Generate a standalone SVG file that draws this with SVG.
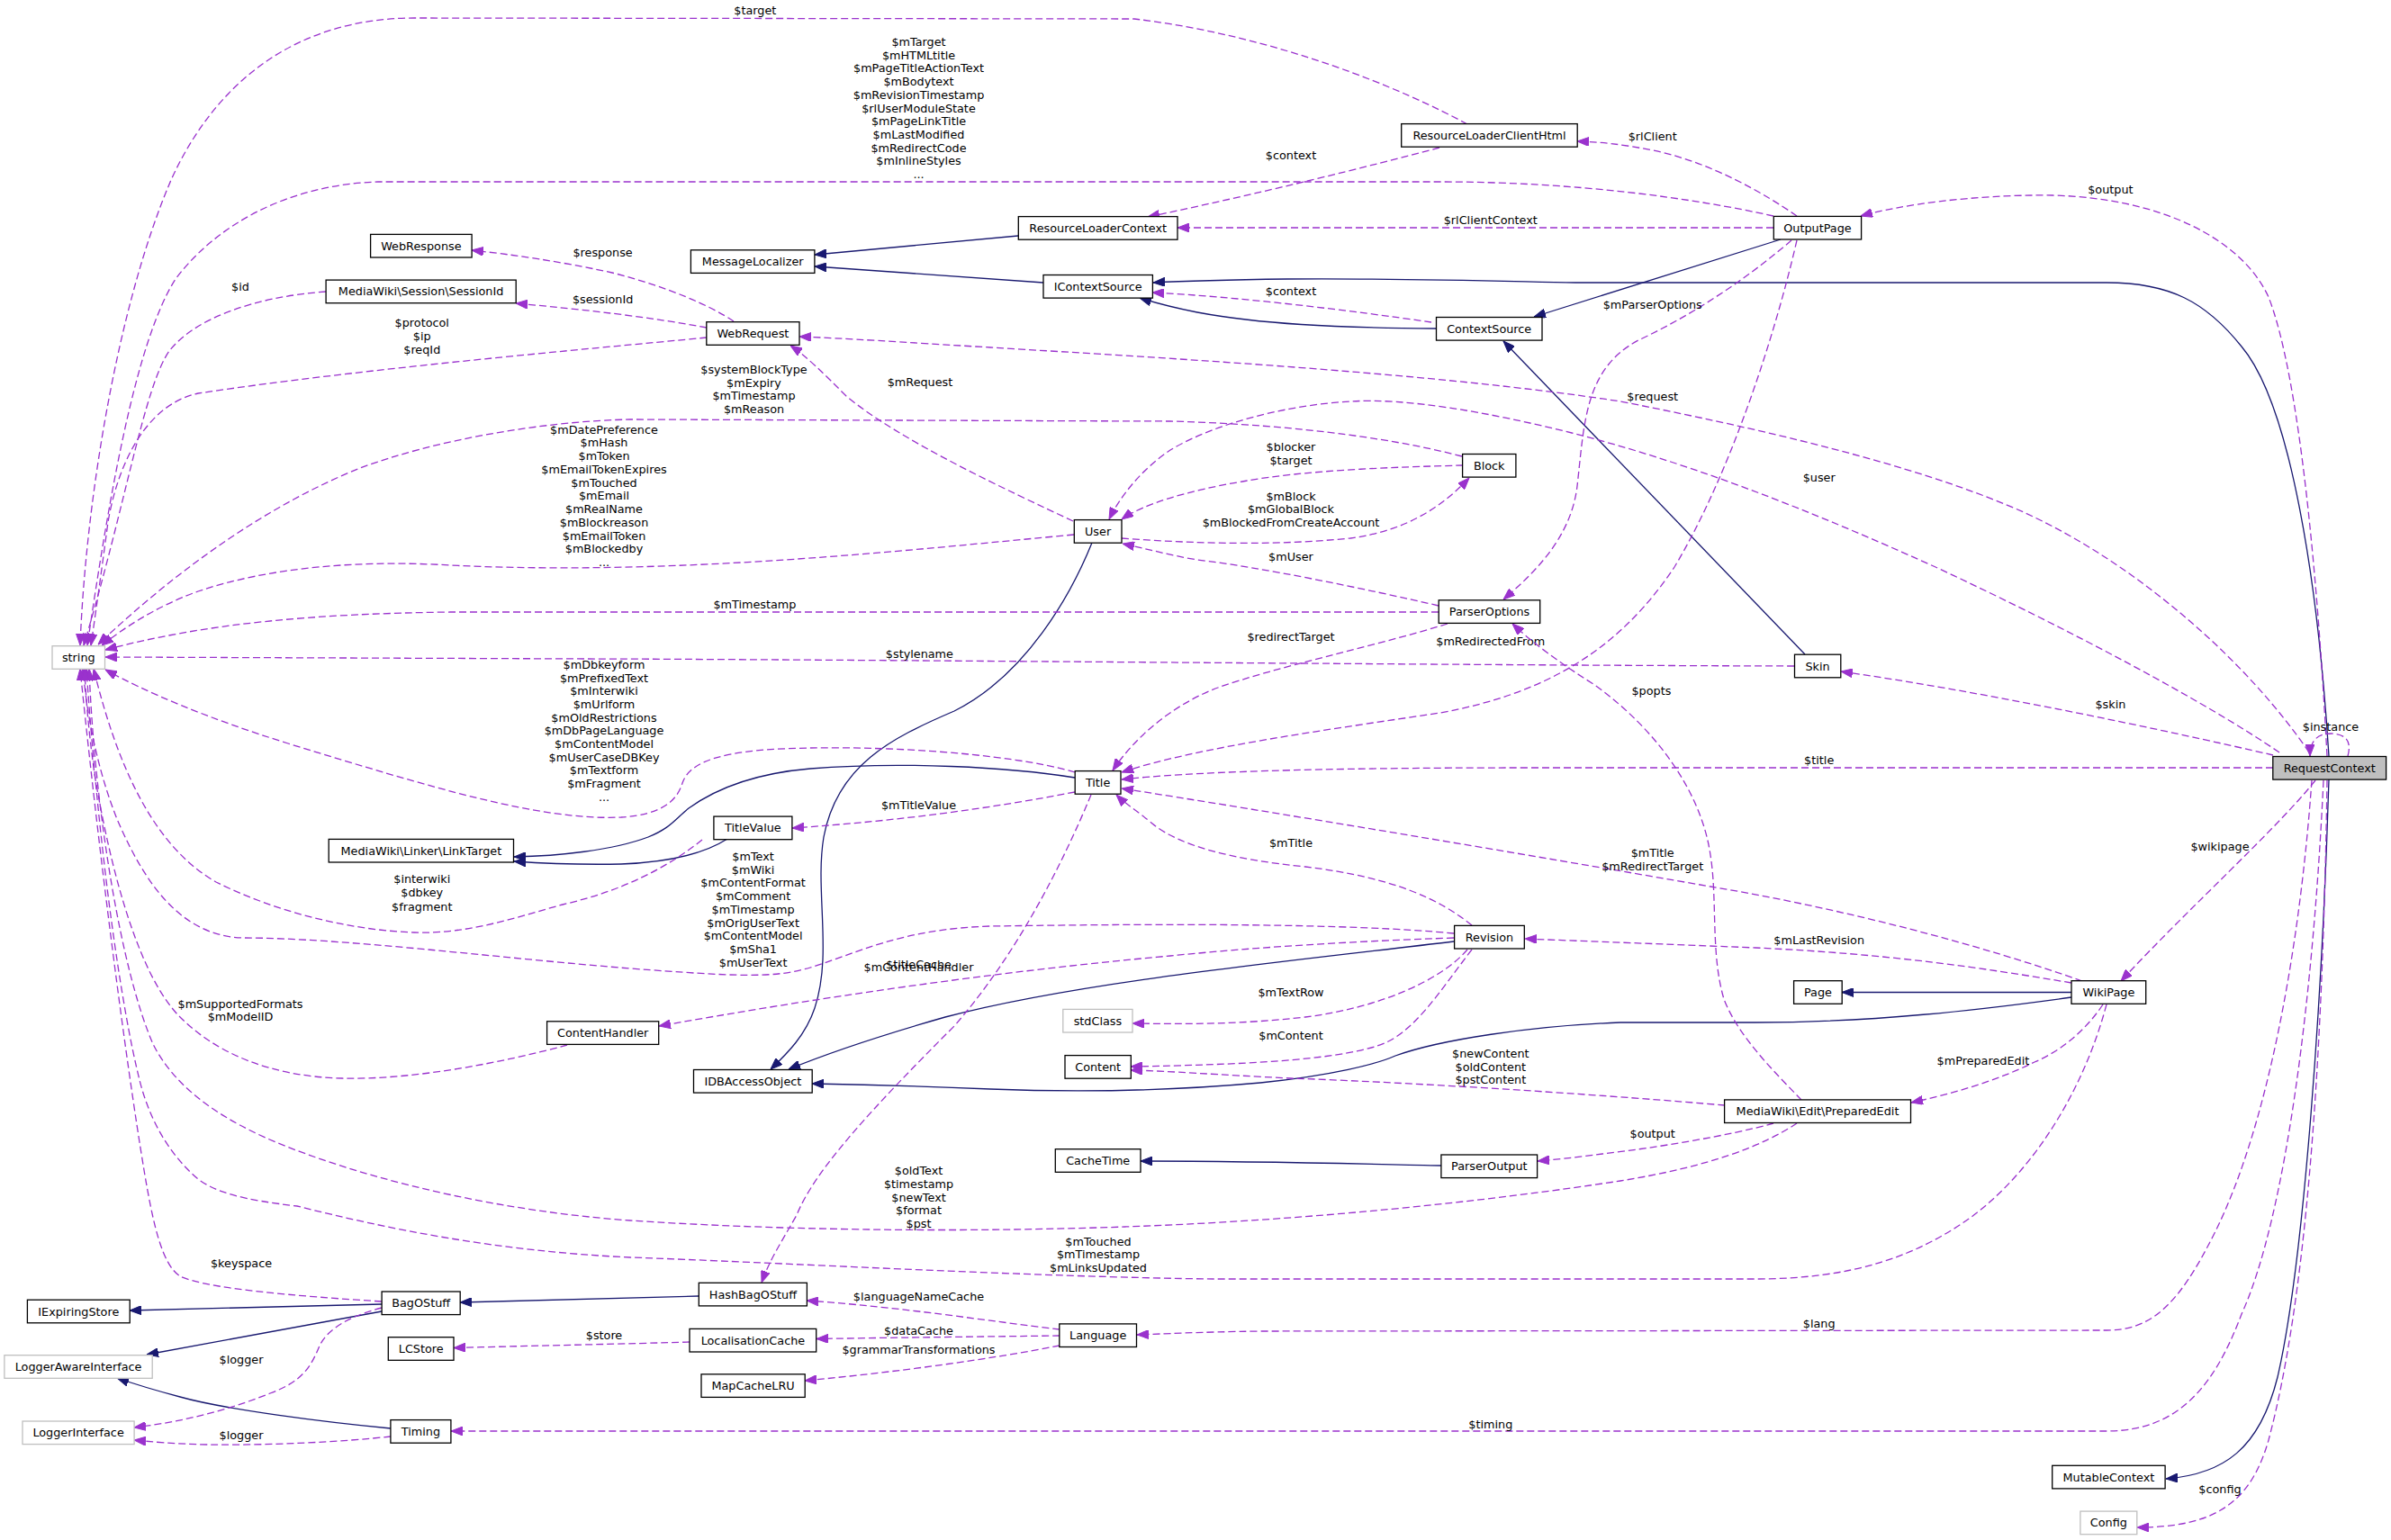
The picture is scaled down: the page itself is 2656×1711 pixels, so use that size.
<svg xmlns="http://www.w3.org/2000/svg" width="2656" height="1711" viewBox="0 0 2656 1711">
<style>
.n rect{fill:#fff;stroke:#000;stroke-width:1.3}
.n.g rect{stroke:#bfbfbf}
.n.h rect{fill:#bfbfbf}
text{font-family:"DejaVu Sans","Liberation Sans",sans-serif;font-size:12.8px;fill:#000;text-anchor:middle}
.u{fill:none;stroke:#9a32cd;stroke-width:1.3;stroke-dasharray:8,4;marker-end:url(#ap)}
.i{fill:none;stroke:#191970;stroke-width:1.3;marker-end:url(#ai)}
</style>
<defs>
<marker id="ap" viewBox="0 0 13 10" refX="13" refY="5" markerWidth="13" markerHeight="10" markerUnits="userSpaceOnUse" orient="auto"><path d="M0,0 L13,5 L0,10 z" fill="#9a32cd" stroke="#9a32cd" stroke-width="1"/></marker>
<marker id="ai" viewBox="0 0 13 10" refX="13" refY="5" markerWidth="13" markerHeight="10" markerUnits="userSpaceOnUse" orient="auto"><path d="M0,0 L13,5 L0,10 z" fill="#191970" stroke="#191970" stroke-width="1"/></marker>
</defs>
<rect width="2656" height="1711" fill="#fff"/>
<g id="connectors">
<!-- inheritance -->
<path class="i" d="M1131,262 L905,283"/>
<path class="i" d="M1159,314 L905,296"/>
<path class="i" d="M2587,840 C2575,650 2545,450 2490,385 C2450,335 2410,314 2340,314 L1750,314 C1650,312 1550,309 1430,310 C1360,311 1320,312 1281,314"/>
<path class="i" d="M2587,866 C2580,1100 2560,1400 2530,1530 C2510,1610 2470,1638 2406,1643"/>
<path class="i" d="M1595,365 C1480,364 1400,360 1330,347 C1305,342 1285,337 1266,331"/>
<path class="i" d="M1978,266 L1704,352"/>
<path class="i" d="M2005,727 L1670,379"/>
<path class="i" d="M1213,603 C1190,660 1140,750 1060,790 C990,820 930,850 915,930 C905,990 925,1060 905,1120 C895,1150 875,1170 856,1188"/>
<path class="i" d="M1615,1046 C1450,1066 1200,1090 1050,1130 C980,1150 920,1170 876,1188"/>
<path class="i" d="M2301,1108 C2200,1122 2080,1136 1950,1136 L1800,1136 C1700,1140 1600,1155 1550,1173 C1530,1182 1480,1195 1400,1203 C1300,1212 1200,1214 1100,1210 C1030,1207 960,1205 902,1204"/>
<path class="i" d="M2301,1102.5 L2046,1102.5"/>
<path class="i" d="M1194,864 C1120,852 1000,846 900,854 C830,860 790,880 765,898 C750,910 745,920 720,930 C680,945 620,951 571,952"/>
<path class="i" d="M808,932 C780,950 740,958 690,960 C640,961 600,959 571,957"/>
<path class="i" d="M1601,1295 C1500,1293 1400,1290 1267,1290"/>
<path class="i" d="M424,1449 L144,1456"/>
<path class="i" d="M424,1457 L163,1505"/>
<path class="i" d="M776,1440 L511,1447"/>
<path class="i" d="M434,1587 C360,1580 250,1566 200,1552 C170,1544 150,1538 130,1531"/>
<!-- usage -->
<g><path class="u" d="M2585,840 C2575,650 2555,420 2520,330 C2490,265 2400,220 2280,217 C2190,216 2110,228 2067,240"/><text x="2344.4" y="215.3">$output</text></g>
<g><path class="u" d="M2565,836 C2500,740 2380,630 2250,570 C2150,525 2000,485 1800,446 C1600,415 1300,398 1100,386 C1000,380 940,376 888,374"/><text x="1835.7" y="444.5">$request</text></g>
<g><path class="u" d="M2532,836 C2450,780 2300,700 2150,630 C2050,585 1900,520 1746,481 C1650,457 1560,442 1500,446 C1430,450 1350,470 1300,500 C1270,520 1245,550 1232,577"/><text x="2020.7" y="535.3">$user</text></g>
<g><path class="u" d="M2525,839 C2400,810 2200,768 2045,746"/><text x="2344.4" y="786.5">$skin</text></g>
<g><path class="u" d="M2608,840 C2612,825 2608,816 2590,815 C2575,815 2566,822 2566,840"/><text x="2589" y="812.1">$instance</text></g>
<g><path class="u" d="M2525,853 L1700,853 C1450,853 1320,858 1246,866"/><text x="2020.7" y="848.9">$title</text></g>
<g><path class="u" d="M2572,867 C2530,920 2430,1010 2356,1090"/><text x="2466" y="945.3">$wikipage</text></g>
<g><path class="u" d="M2568,867 C2555,1050 2520,1250 2460,1370 C2420,1450 2390,1478 2340,1478 L1400,1479 C1330,1480 1290,1482 1263,1483"/><text x="2020.7" y="1474.5">$lang</text></g>
<g><path class="u" d="M2581,867 C2570,1100 2540,1350 2490,1460 C2460,1540 2420,1590 2340,1590 L501,1590"/><text x="1655.8" y="1586.9">$timing</text></g>
<g><path class="u" d="M2585,867 C2580,1200 2560,1450 2520,1600 C2500,1670 2460,1697 2374,1697"/><text x="2466" y="1659.1">$config</text></g>
<g><path class="u" d="M1970,240 C1880,220 1750,202 1600,202 L420,202 C320,205 240,250 195,310 C150,380 120,560 97,717"/><text x="1020.5" y="51"><tspan x="1020.5">$mTarget</tspan><tspan x="1020.5" dy="14.7">$mHTMLtitle</tspan><tspan x="1020.5" dy="14.7">$mPageTitleActionText</tspan><tspan x="1020.5" dy="14.7">$mBodytext</tspan><tspan x="1020.5" dy="14.7">$mRevisionTimestamp</tspan><tspan x="1020.5" dy="14.7">$rlUserModuleState</tspan><tspan x="1020.5" dy="14.7">$mPageLinkTitle</tspan><tspan x="1020.5" dy="14.7">$mLastModified</tspan><tspan x="1020.5" dy="14.7">$mRedirectCode</tspan><tspan x="1020.5" dy="14.7">$mInlineStyles</tspan><tspan x="1020.5" dy="14.7">...</tspan></text></g>
<g><path class="u" d="M1996,240 C1960,215 1900,180 1836,167 C1800,160 1780,158 1752,157"/><text x="1835.7" y="156.2">$rlClient</text></g>
<g><path class="u" d="M1970,253 L1308,253"/><text x="1655.8" y="249">$rlClientContext</text></g>
<g><path class="u" d="M1599,164 C1520,185 1400,215 1275,241"/><text x="1434" y="177.2">$context</text></g>
<g><path class="u" d="M1630,138 C1560,100 1420,40 1260,21 L460,20 C330,20 240,90 190,200 C130,340 95,560 89,717"/><text x="838.8" y="16.3">$target</text></g>
<g><path class="u" d="M1590,358 C1500,345 1380,330 1280,325"/><text x="1434" y="328.2">$context</text></g>
<g><path class="u" d="M815,357 C790,340 740,318 680,303 C620,290 570,283 524,278"/><text x="669.6" y="284.9">$response</text></g>
<g><path class="u" d="M785,364 C720,352 650,344 573,337"/><text x="669.6" y="336.7">$sessionId</text></g>
<g><path class="u" d="M785,375 C650,388 400,410 220,437 C160,450 130,520 120,580 C112,640 105,690 101,717"/><text x="468.75" y="363.3"><tspan x="468.75">$protocol</tspan><tspan x="468.75" dy="14.8">$ip</tspan><tspan x="468.75" dy="14.8">$reqId</tspan></text></g>
<g><path class="u" d="M362,324 C280,330 215,355 188,390 C160,430 140,560 93,717"/><text x="267" y="323.4">$id</text></g>
<g><path class="u" d="M1192,579 C1120,545 1000,490 940,440 C915,415 895,395 878,384"/><text x="1022" y="429.1">$mRequest</text></g>
<g><path class="u" d="M1193,594 C1000,612 750,640 500,628 C400,622 300,630 220,657 C170,675 135,700 113,717"/><text x="671" y="481.7"><tspan x="671">$mDatePreference</tspan><tspan x="671" dy="14.75">$mHash</tspan><tspan x="671" dy="14.75">$mToken</tspan><tspan x="671" dy="14.75">$mEmailTokenExpires</tspan><tspan x="671" dy="14.75">$mTouched</tspan><tspan x="671" dy="14.75">$mEmail</tspan><tspan x="671" dy="14.75">$mRealName</tspan><tspan x="671" dy="14.75">$mBlockreason</tspan><tspan x="671" dy="14.75">$mEmailToken</tspan><tspan x="671" dy="14.75">$mBlockedby</tspan><tspan x="671" dy="14.75">...</tspan></text></g>
<g><path class="u" d="M1624,507 C1560,490 1450,472 1300,468 L700,466 C600,468 480,490 400,520 C300,560 200,630 109,716"/><text x="837.5" y="415.1"><tspan x="837.5">$systemBlockType</tspan><tspan x="837.5" dy="14.5">$mExpiry</tspan><tspan x="837.5" dy="14.5">$mTimestamp</tspan><tspan x="837.5" dy="14.5">$mReason</tspan></text></g>
<g><path class="u" d="M1625,517 C1550,519 1450,522 1380,535 C1320,545 1270,560 1246,577"/><text x="1434" y="500.9"><tspan x="1434">$blocker</tspan><tspan x="1434" dy="15">$target</tspan></text></g>
<g><path class="u" d="M1246,598 C1300,602 1400,608 1500,598 C1560,590 1600,565 1632,531"/><text x="1434" y="555.5"><tspan x="1434">$mBlock</tspan><tspan x="1434" dy="14.75">$mGlobalBlock</tspan><tspan x="1434" dy="14.75">$mBlockedFromCreateAccount</tspan></text></g>
<g><path class="u" d="M1598,673 C1520,655 1400,630 1330,622 C1300,617 1275,610 1247,604"/><text x="1434" y="623.1">$mUser</text></g>
<g><path class="u" d="M1598,680 L500,680 C350,682 230,692 117,722"/><text x="838.4" y="676.2">$mTimestamp</text></g>
<g><path class="u" d="M1608,693 C1520,720 1420,740 1350,765 C1300,785 1260,820 1236,856"/><text x="1434" y="711.8">$redirectTarget</text></g>
<g><path class="u" d="M1996,267 C1970,380 1920,530 1860,630 C1800,720 1720,770 1600,792 C1480,810 1330,830 1246,858"/><text x="1655.8" y="716.5">$mRedirectedFrom</text></g>
<g><path class="u" d="M1990,267 C1940,310 1880,350 1820,378 C1760,410 1760,470 1752,540 C1745,600 1700,640 1670,666"/><text x="1835.7" y="343">$mParserOptions</text></g>
<g><path class="u" d="M1993,740 C1600,739 1000,733 650,732 L117,730"/><text x="1021.4" y="731">$stylename</text></g>
<g><path class="u" d="M1194,858 C1120,836 960,826 850,833 C790,838 765,850 758,870 C752,890 735,905 690,908 C600,912 480,875 320,826 C230,798 160,768 117,744"/><text x="671" y="742.8"><tspan x="671">$mDbkeyform</tspan><tspan x="671" dy="14.7">$mPrefixedText</tspan><tspan x="671" dy="14.7">$mInterwiki</tspan><tspan x="671" dy="14.7">$mUrlform</tspan><tspan x="671" dy="14.7">$mOldRestrictions</tspan><tspan x="671" dy="14.7">$mDbPageLanguage</tspan><tspan x="671" dy="14.7">$mContentModel</tspan><tspan x="671" dy="14.7">$mUserCaseDBKey</tspan><tspan x="671" dy="14.7">$mTextform</tspan><tspan x="671" dy="14.7">$mFragment</tspan><tspan x="671" dy="14.7">...</tspan></text></g>
<g><path class="u" d="M1194,880 C1100,898 1000,912 880,920"/><text x="1020.5" y="898.5">$mTitleValue</text></g>
<g><path class="u" d="M1212,883 C1180,960 1130,1060 1060,1140 C970,1230 905,1300 885,1350 C865,1385 855,1400 846,1425"/><text x="1020.5" y="1075.5">$titleCache</text></g>
<g><path class="u" d="M780,933 C740,965 690,990 625,1005 C570,1020 520,1038 460,1036 C380,1033 300,1010 240,980 C170,940 130,850 104,743"/><text x="468.75" y="980.9"><tspan x="468.75">$interwiki</tspan><tspan x="468.75" dy="15.3">$dbkey</tspan><tspan x="468.75" dy="15.3">$fragment</tspan></text></g>
<g><path class="u" d="M1615,1037 C1500,1026 1300,1026 1100,1029 C1000,1032 950,1060 900,1075 C860,1087 820,1085 700,1076 C550,1064 380,1042 270,1042 C200,1040 160,980 130,910 C110,860 97,800 92,743"/><text x="836.6" y="956"><tspan x="836.6">$mText</tspan><tspan x="836.6" dy="14.7">$mWiki</tspan><tspan x="836.6" dy="14.7">$mContentFormat</tspan><tspan x="836.6" dy="14.7">$mComment</tspan><tspan x="836.6" dy="14.7">$mTimestamp</tspan><tspan x="836.6" dy="14.7">$mOrigUserText</tspan><tspan x="836.6" dy="14.7">$mContentModel</tspan><tspan x="836.6" dy="14.7">$mSha1</tspan><tspan x="836.6" dy="14.7">$mUserText</tspan></text></g>
<g><path class="u" d="M1615,1042 C1500,1046 1400,1052 1300,1062 C1100,1080 900,1110 732,1140"/><text x="1020.5" y="1079.2">$mContentHandler</text></g>
<g><path class="u" d="M1630,1055 C1600,1090 1530,1120 1450,1130 C1380,1138 1320,1138 1258,1137"/><text x="1434" y="1107.2">$mTextRow</text></g>
<g><path class="u" d="M1635,1055 C1600,1100 1570,1150 1530,1162 C1480,1178 1380,1183 1256,1185"/><text x="1434" y="1155">$mContent</text></g>
<g><path class="u" d="M2313,1090 C2200,1050 2050,1010 1900,985 C1700,950 1400,900 1246,876"/><text x="1835.7" y="951.8"><tspan x="1835.7">$mTitle</tspan><tspan x="1835.7" dy="15.3">$mRedirectTarget</tspan></text></g>
<g><path class="u" d="M1635,1028 C1600,1000 1550,975 1450,963 C1370,955 1310,940 1280,915 C1262,900 1250,893 1240,883"/><text x="1434" y="940.7">$mTitle</text></g>
<g><path class="u" d="M2301,1092 C2200,1075 2100,1060 1950,1053 C1850,1049 1770,1046 1694,1043"/><text x="2020.7" y="1049.4">$mLastRevision</text></g>
<g><path class="u" d="M2336,1116 C2320,1140 2295,1165 2260,1180 C2220,1200 2170,1215 2123,1225"/><text x="2202.9" y="1182.7">$mPreparedEdit</text></g>
<g><path class="u" d="M2340,1116 C2315,1210 2260,1300 2190,1352 C2130,1395 2060,1421 1950,1421 L1350,1421 C1150,1419 850,1402 700,1397 C550,1390 430,1365 330,1340 C270,1333 240,1325 220,1310 C185,1280 165,1240 155,1200 C135,1120 110,950 96,743"/><text x="1220" y="1383.9"><tspan x="1220">$mTouched</tspan><tspan x="1220" dy="14.3">$mTimestamp</tspan><tspan x="1220" dy="14.3">$mLinksUpdated</tspan></text></g>
<g><path class="u" d="M1996,1248 C1960,1272 1900,1296 1800,1312 C1650,1335 1450,1356 1250,1363 C1050,1370 850,1366 700,1356 C560,1346 430,1315 340,1282 C250,1250 195,1210 170,1160 C135,1080 105,900 99,743"/><text x="1020.5" y="1304.9"><tspan x="1020.5">$oldText</tspan><tspan x="1020.5" dy="14.8">$timestamp</tspan><tspan x="1020.5" dy="14.8">$newText</tspan><tspan x="1020.5" dy="14.8">$format</tspan><tspan x="1020.5" dy="14.8">$pst</tspan></text></g>
<g><path class="u" d="M424,1446 C330,1440 230,1432 200,1418 C180,1405 170,1360 160,1300 C140,1180 110,950 89,743"/><text x="268" y="1407.9">$keyspace</text></g>
<g><path class="u" d="M630,1161 C560,1180 460,1200 380,1198 C300,1196 240,1170 200,1130 C150,1080 120,950 105,860 C98,810 95,770 94,743"/><text x="267" y="1119.5"><tspan x="267">$mSupportedFormats</tspan><tspan x="267" dy="14.3">$mModelID</tspan></text></g>
<g><path class="u" d="M424,1453 C390,1462 365,1475 355,1495 C345,1520 335,1535 300,1548 C250,1568 200,1580 149,1586"/><text x="268" y="1515">$logger</text></g>
<g><path class="u" d="M434,1596 C380,1602 300,1606 230,1605 C190,1604 170,1602 149,1600"/><text x="268" y="1598.8">$logger</text></g>
<g><path class="u" d="M2001,1222 C1970,1190 1930,1150 1915,1110 C1900,1060 1908,1000 1900,950 C1890,880 1840,810 1770,760 C1730,735 1700,712 1680,693"/><text x="1834.4" y="772.3">$popts</text></g>
<g><path class="u" d="M1916,1228 C1800,1218 1600,1204 1434,1198 C1350,1194 1300,1190 1256,1189"/><text x="1655.8" y="1175.3"><tspan x="1655.8">$newContent</tspan><tspan x="1655.8" dy="14.5">$oldContent</tspan><tspan x="1655.8" dy="14.5">$pstContent</tspan></text></g>
<g><path class="u" d="M1970,1248 C1920,1262 1840,1275 1780,1282 C1750,1286 1730,1288 1708,1290"/><text x="1835.7" y="1264.2">$output</text></g>
<g><path class="u" d="M1177,1477 C1100,1468 1000,1452 896,1445"/><text x="1020.5" y="1445">$languageNameCache</text></g>
<g><path class="u" d="M1177,1484 C1100,1485 1000,1486 907,1487.5"/><text x="1020.5" y="1482.8">$dataCache</text></g>
<g><path class="u" d="M1177,1495 C1100,1510 1000,1524 894,1534"/><text x="1020.5" y="1503.9">$grammarTransformations</text></g>
<g><path class="u" d="M766,1491 C700,1493 600,1495 504,1497.5"/><text x="671" y="1488.3">$store</text></g>
</g>
<g id="node-WebResponse" class="n"><rect x="411.6" y="260.4" width="112.5" height="25.6"/><text x="467.9" y="277.7">WebResponse</text></g>
<g id="node-SessionId" class="n"><rect x="362.1" y="311.1" width="211.1" height="25.6"/><text x="467.6" y="328.4">MediaWiki\Session\SessionId</text></g>
<g id="node-MessageLocalizer" class="n"><rect x="767.4" y="277.8" width="137.5" height="25.6"/><text x="836.2" y="295.1">MessageLocalizer</text></g>
<g id="node-ResourceLoaderContext" class="n"><rect x="1131.3" y="240.6" width="176.7" height="25.6"/><text x="1219.7" y="257.9">ResourceLoaderContext</text></g>
<g id="node-IContextSource" class="n"><rect x="1159" y="305.5" width="121.4" height="25.6"/><text x="1219.7" y="322.8">IContextSource</text></g>
<g id="node-WebRequest" class="n"><rect x="784.8" y="357.7" width="103.2" height="25.6"/><text x="836.4" y="375">WebRequest</text></g>
<g id="node-ResourceLoaderClientHtml" class="n"><rect x="1556.7" y="137.6" width="195.5" height="25.6"/><text x="1654.5" y="154.9">ResourceLoaderClientHtml</text></g>
<g id="node-OutputPage" class="n"><rect x="1970.3" y="240.4" width="97.3" height="25.6"/><text x="2019" y="257.7">OutputPage</text></g>
<g id="node-ContextSource" class="n"><rect x="1595.5" y="352.5" width="117.5" height="25.6"/><text x="1654.2" y="369.8">ContextSource</text></g>
<g id="node-Block" class="n"><rect x="1624.6" y="504.5" width="59.3" height="25.6"/><text x="1654.2" y="521.8">Block</text></g>
<g id="node-User" class="n"><rect x="1193.3" y="577.6" width="52.7" height="25.6"/><text x="1219.6" y="594.9">User</text></g>
<g id="node-ParserOptions" class="n"><rect x="1598.2" y="666.8" width="112.5" height="25.6"/><text x="1654.5" y="684.1">ParserOptions</text></g>
<g id="node-Skin" class="n"><rect x="1993.5" y="727.2" width="51.3" height="25.6"/><text x="2019.1" y="744.5">Skin</text></g>
<g id="node-Title" class="n"><rect x="1194.2" y="856.6" width="50.8" height="25.6"/><text x="1219.6" y="873.9">Title</text></g>
<g id="node-TitleValue" class="n"><rect x="792.9" y="907.1" width="87" height="25.6"/><text x="836.4" y="924.4">TitleValue</text></g>
<g id="node-RequestContext" class="n h"><rect x="2524.8" y="840.5" width="125.8" height="25.6"/><text x="2587.7" y="857.8">RequestContext</text></g>
<g id="node-Revision" class="n"><rect x="1615.6" y="1028.4" width="77.7" height="25.6"/><text x="1654.5" y="1045.7">Revision</text></g>
<g id="node-WikiPage" class="n"><rect x="2301" y="1089.7" width="82.7" height="25.6"/><text x="2342.4" y="1107">WikiPage</text></g>
<g id="node-Page" class="n"><rect x="1992.6" y="1089.7" width="53.6" height="25.6"/><text x="2019.4" y="1107">Page</text></g>
<g id="node-stdClass" class="n g"><rect x="1180.8" y="1121.4" width="77.2" height="25.6"/><text x="1219.4" y="1138.7">stdClass</text></g>
<g id="node-string" class="n g"><rect x="58" y="717.7" width="58.5" height="25.6"/><text x="87.3" y="735">string</text></g>
<g id="node-LinkTarget" class="n"><rect x="365.2" y="932.4" width="205.3" height="25.6"/><text x="467.9" y="949.7">MediaWiki\Linker\LinkTarget</text></g>
<g id="node-ContentHandler" class="n"><rect x="607.6" y="1134.8" width="124.1" height="25.6"/><text x="669.7" y="1152.1">ContentHandler</text></g>
<g id="node-Content" class="n"><rect x="1183" y="1172.6" width="73.3" height="25.6"/><text x="1219.7" y="1189.9">Content</text></g>
<g id="node-IDBAccessObject" class="n"><rect x="770.5" y="1188.5" width="131.7" height="25.6"/><text x="836.4" y="1205.8">IDBAccessObject</text></g>
<g id="node-CacheTime" class="n"><rect x="1172.3" y="1276.7" width="94.7" height="25.6"/><text x="1219.7" y="1294">CacheTime</text></g>
<g id="node-ParserOutput" class="n"><rect x="1600.9" y="1283" width="106.7" height="25.6"/><text x="1654.3" y="1300.3">ParserOutput</text></g>
<g id="node-PreparedEdit" class="n"><rect x="1915.6" y="1221.9" width="206.9" height="25.6"/><text x="2019" y="1239.2">MediaWiki\Edit\PreparedEdit</text></g>
<g id="node-IExpiringStore" class="n"><rect x="30.4" y="1444.2" width="113.8" height="25.6"/><text x="87.3" y="1461.5">IExpiringStore</text></g>
<g id="node-BagOStuff" class="n"><rect x="424.1" y="1435" width="87.1" height="25.6"/><text x="467.7" y="1452.3">BagOStuff</text></g>
<g id="node-HashBagOStuff" class="n"><rect x="776.3" y="1425.3" width="120.1" height="25.6"/><text x="836.4" y="1442.6">HashBagOStuff</text></g>
<g id="node-LoggerAwareInterface" class="n g"><rect x="4.9" y="1505.7" width="164.3" height="25.6"/><text x="87.1" y="1523">LoggerAwareInterface</text></g>
<g id="node-LCStore" class="n"><rect x="431.3" y="1485.7" width="72.7" height="25.6"/><text x="467.7" y="1503">LCStore</text></g>
<g id="node-LocalisationCache" class="n"><rect x="766" y="1476.4" width="140.7" height="25.6"/><text x="836.4" y="1493.7">LocalisationCache</text></g>
<g id="node-Language" class="n"><rect x="1176.8" y="1470.9" width="85.7" height="25.6"/><text x="1219.7" y="1488.2">Language</text></g>
<g id="node-MapCacheLRU" class="n"><rect x="779" y="1526.8" width="115.2" height="25.6"/><text x="836.6" y="1544.1">MapCacheLRU</text></g>
<g id="node-LoggerInterface" class="n g"><rect x="25" y="1579" width="124.1" height="25.6"/><text x="87.1" y="1596.3">LoggerInterface</text></g>
<g id="node-Timing" class="n"><rect x="433.9" y="1577.6" width="67" height="25.6"/><text x="467.4" y="1594.9">Timing</text></g>
<g id="node-MutableContext" class="n"><rect x="2279.7" y="1628.3" width="125.4" height="25.6"/><text x="2342.4" y="1645.6">MutableContext</text></g>
<g id="node-Config" class="n g"><rect x="2310.9" y="1679.1" width="62.9" height="25.6"/><text x="2342.3" y="1696.4">Config</text></g>
</svg>
